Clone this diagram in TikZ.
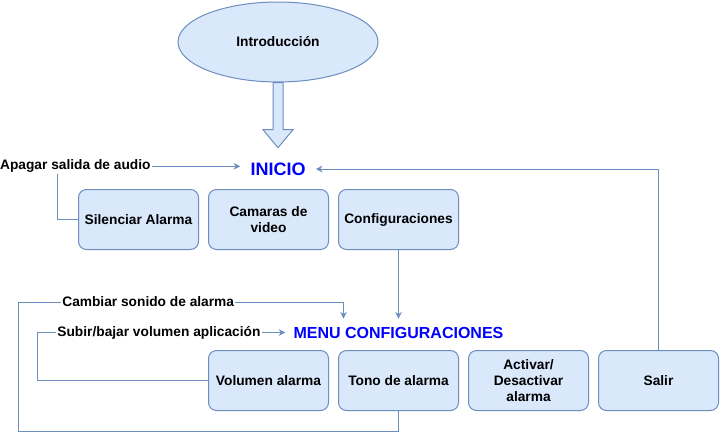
\documentclass[tikz,border=0pt]{standalone}
\usepackage{fontspec}
\setmainfont{Liberation Sans}
\usetikzlibrary{shapes.geometric,arrows.meta,calc}
\definecolor{boxfill}{HTML}{DAE8FC}
\definecolor{boxline}{HTML}{6C8EBF}
\definecolor{titleblue}{HTML}{0000FF}
\tikzstyle{startnode} = [ellipse, minimum width=150pt, minimum height=60pt, draw=boxline, line width=0.75pt, fill=boxfill, font=\fontsize{10.3}{12.5}\selectfont\bfseries]
\tikzstyle{menuopt} = [rectangle, rounded corners=6pt, minimum width=90pt, minimum height=45pt, inner sep=2pt, text centered, align=center, draw=boxline, line width=0.75pt, fill=boxfill, font=\fontsize{10.3}{12}\selectfont\bfseries]
\tikzstyle{heading} = [text=titleblue, inner sep=7.5pt, font=\fontsize{13.5}{16}\selectfont\bfseries]
\tikzstyle{subheading} = [text=titleblue, inner sep=6pt, font=\fontsize{12}{14}\selectfont\bfseries]
\tikzstyle{edgetext} = [fill=white, inner sep=1pt, font=\fontsize{10.3}{12}\selectfont\bfseries]
\tikzstyle{bigarrow} = [draw=boxline, fill=boxfill, line width=0.75pt]
\tikzstyle{arrow} = [draw=boxline, line width=0.75pt, -{Stealth[length=5pt,width=5pt]}]
\begin{document}
\begin{tikzpicture}[x=0.75pt, y=-0.75pt, node distance=97.5pt]
      \useasboundingbox (0,0) rectangle (720,439);
      \node (intro)[startnode] at (278,42) {Introducción};
      \node (inicio)[heading] at (278,169) {INICIO};
      \node (cam)[menuopt] at (268.5,219.5) {Camaras de\\video};
      \node (sil)[menuopt, left of=cam]{Silenciar Alarma};
      \node (conf)[menuopt, right of=cam]{Configuraciones};
      \node (menu)[subheading] at (398.5,332.5) {MENU CONFIGURACIONES};
      \node (vol)[menuopt] at (268.5,380.5) {Volumen alarma};
      \node (tono)[menuopt, right of=vol]{Tono de alarma};
      \node (act)[menuopt, right of=tono]{Activar/\\Desactivar\\alarma};
      \node (salir)[menuopt, right of=act]{Salir};
      \coordinate (tip) at ([yshift=3.5pt]inicio.north);
      \draw [bigarrow]($(intro.south)+(-5,0)$)--($(tip)+(-5,-18)$)--($(tip)+(-15,-18)$)--(tip)--($(tip)+(15,-18)$)--($(tip)+(5,-18)$)--($(intro.south)+(5,0)$)--cycle;
      \draw [arrow](sil.west)--++(-21,0) |- ([yshift=2pt]inicio.west) node[edgetext, pos=0.55]{Apagar salida de audio};
      \draw [arrow](salir.north) |- (inicio.east);
      \draw [arrow](conf.south)--(menu.north);
      \draw [arrow](vol.west)--++(-170.5,0) |- (menu.west) node[edgetext, pos=0.745]{Subir/bajar volumen aplicación};
      \draw [arrow](tono.south)--++(0,20) -| ++(-380.5,-129) -| ([xshift=-41.25pt]menu.north) node[edgetext, pos=0.2]{Cambiar sonido de alarma};
    \end{tikzpicture}
\end{document}
